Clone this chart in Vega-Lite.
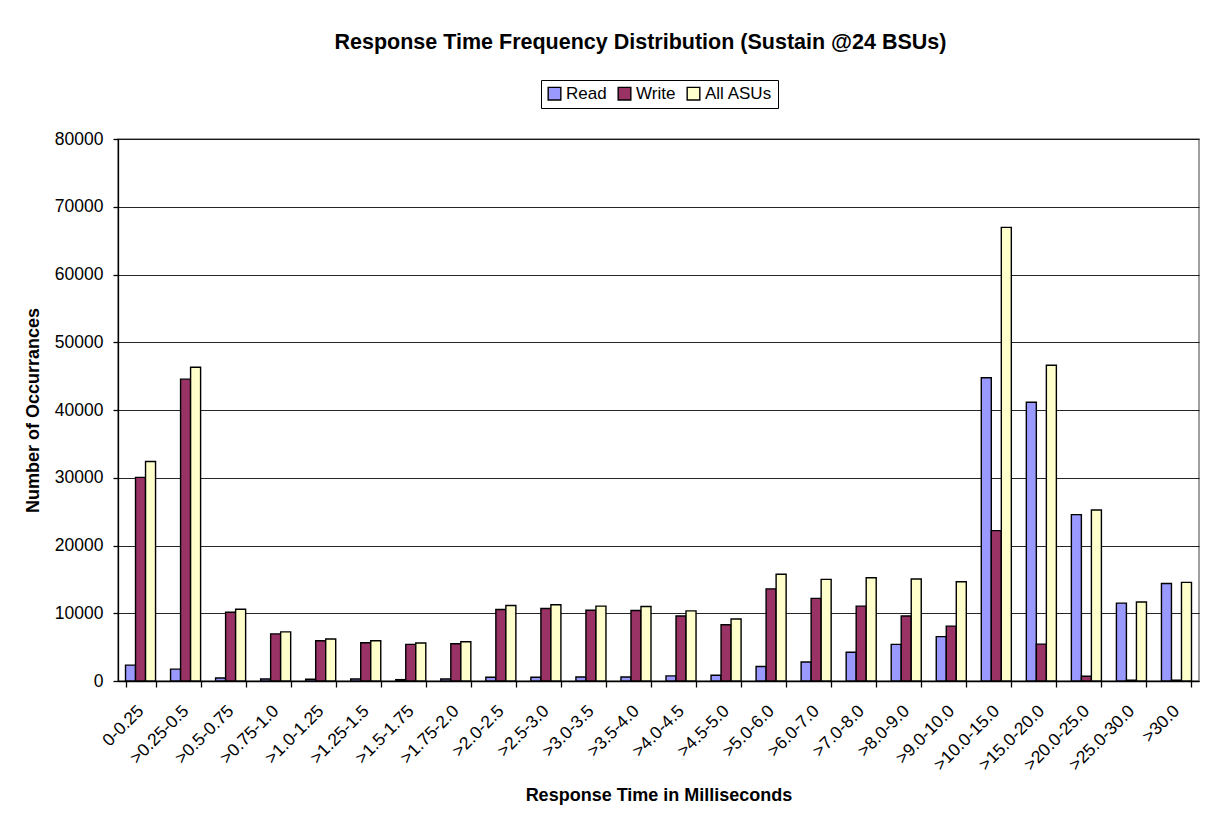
{
  "$schema": "https://vega.github.io/schema/vega-lite/v6.json",
  "autosize": {"type": "none"},
  "padding": {"left": 118, "top": 139, "right": 8, "bottom": 140},
  "width": 1081,
  "height": 542,
  "background": "white",
  "title": {
    "text": "Response Time Frequency Distribution (Sustain @24 BSUs)",
    "font": "Liberation Sans",
    "fontSize": 21.5,
    "fontWeight": "bold",
    "color": "black",
    "anchor": "middle",
    "offset": 26,
    "dx": -18
  },
  "data": {
    "values": [
      {"range": "0-0.25", "series": "Read", "count": 2350},
      {"range": "0-0.25", "series": "Write", "count": 30050},
      {"range": "0-0.25", "series": "All ASUs", "count": 32400},
      {"range": ">0.25-0.5", "series": "Read", "count": 1750},
      {"range": ">0.25-0.5", "series": "Write", "count": 44550},
      {"range": ">0.25-0.5", "series": "All ASUs", "count": 46300},
      {"range": ">0.5-0.75", "series": "Read", "count": 450},
      {"range": ">0.5-0.75", "series": "Write", "count": 10150},
      {"range": ">0.5-0.75", "series": "All ASUs", "count": 10600},
      {"range": ">0.75-1.0", "series": "Read", "count": 300},
      {"range": ">0.75-1.0", "series": "Write", "count": 6950},
      {"range": ">0.75-1.0", "series": "All ASUs", "count": 7250},
      {"range": ">1.0-1.25", "series": "Read", "count": 250},
      {"range": ">1.0-1.25", "series": "Write", "count": 5950},
      {"range": ">1.0-1.25", "series": "All ASUs", "count": 6200},
      {"range": ">1.25-1.5", "series": "Read", "count": 300},
      {"range": ">1.25-1.5", "series": "Write", "count": 5650},
      {"range": ">1.25-1.5", "series": "All ASUs", "count": 5950},
      {"range": ">1.5-1.75", "series": "Read", "count": 200},
      {"range": ">1.5-1.75", "series": "Write", "count": 5400},
      {"range": ">1.5-1.75", "series": "All ASUs", "count": 5600},
      {"range": ">1.75-2.0", "series": "Read", "count": 300},
      {"range": ">1.75-2.0", "series": "Write", "count": 5500},
      {"range": ">1.75-2.0", "series": "All ASUs", "count": 5800},
      {"range": ">2.0-2.5", "series": "Read", "count": 550},
      {"range": ">2.0-2.5", "series": "Write", "count": 10550},
      {"range": ">2.0-2.5", "series": "All ASUs", "count": 11150},
      {"range": ">2.5-3.0", "series": "Read", "count": 550},
      {"range": ">2.5-3.0", "series": "Write", "count": 10700},
      {"range": ">2.5-3.0", "series": "All ASUs", "count": 11250},
      {"range": ">3.0-3.5", "series": "Read", "count": 600},
      {"range": ">3.0-3.5", "series": "Write", "count": 10450},
      {"range": ">3.0-3.5", "series": "All ASUs", "count": 11050},
      {"range": ">3.5-4.0", "series": "Read", "count": 600},
      {"range": ">3.5-4.0", "series": "Write", "count": 10400},
      {"range": ">3.5-4.0", "series": "All ASUs", "count": 11000},
      {"range": ">4.0-4.5", "series": "Read", "count": 750},
      {"range": ">4.0-4.5", "series": "Write", "count": 9600},
      {"range": ">4.0-4.5", "series": "All ASUs", "count": 10350},
      {"range": ">4.5-5.0", "series": "Read", "count": 850},
      {"range": ">4.5-5.0", "series": "Write", "count": 8300},
      {"range": ">4.5-5.0", "series": "All ASUs", "count": 9150},
      {"range": ">5.0-6.0", "series": "Read", "count": 2150},
      {"range": ">5.0-6.0", "series": "Write", "count": 13600},
      {"range": ">5.0-6.0", "series": "All ASUs", "count": 15750},
      {"range": ">6.0-7.0", "series": "Read", "count": 2800},
      {"range": ">6.0-7.0", "series": "Write", "count": 12200},
      {"range": ">6.0-7.0", "series": "All ASUs", "count": 15000},
      {"range": ">7.0-8.0", "series": "Read", "count": 4250},
      {"range": ">7.0-8.0", "series": "Write", "count": 11050},
      {"range": ">7.0-8.0", "series": "All ASUs", "count": 15250},
      {"range": ">8.0-9.0", "series": "Read", "count": 5400},
      {"range": ">8.0-9.0", "series": "Write", "count": 9600},
      {"range": ">8.0-9.0", "series": "All ASUs", "count": 15050},
      {"range": ">9.0-10.0", "series": "Read", "count": 6550},
      {"range": ">9.0-10.0", "series": "Write", "count": 8100},
      {"range": ">9.0-10.0", "series": "All ASUs", "count": 14650},
      {"range": ">10.0-15.0", "series": "Read", "count": 44750},
      {"range": ">10.0-15.0", "series": "Write", "count": 22200},
      {"range": ">10.0-15.0", "series": "All ASUs", "count": 66950},
      {"range": ">15.0-20.0", "series": "Read", "count": 41150},
      {"range": ">15.0-20.0", "series": "Write", "count": 5450},
      {"range": ">15.0-20.0", "series": "All ASUs", "count": 46600},
      {"range": ">20.0-25.0", "series": "Read", "count": 24550},
      {"range": ">20.0-25.0", "series": "Write", "count": 700},
      {"range": ">20.0-25.0", "series": "All ASUs", "count": 25250},
      {"range": ">25.0-30.0", "series": "Read", "count": 11500},
      {"range": ">25.0-30.0", "series": "Write", "count": 120},
      {"range": ">25.0-30.0", "series": "All ASUs", "count": 11650},
      {"range": ">30.0", "series": "Read", "count": 14400},
      {"range": ">30.0", "series": "Write", "count": 120},
      {"range": ">30.0", "series": "All ASUs", "count": 14550}
    ]
  },
  "mark": {"type": "bar", "stroke": "black", "strokeWidth": 1.4},
  "encoding": {
    "x": {
      "field": "range",
      "type": "nominal",
      "sort": null,
      "scale": {"paddingInner": 0.333, "paddingOuter": 0.1667},
      "axis": {
        "title": "Response Time in Milliseconds",
        "labelAngle": -45,
        "labelAlign": "right",
        "labelBaseline": "middle",
        "labelPadding": 21,
        "labelFontSize": 17.5,
        "tickBand": "extent",
        "tickSize": 6,
        "titlePadding": 13
      }
    },
    "xOffset": {
      "field": "series",
      "type": "nominal",
      "sort": ["Read", "Write", "All ASUs"],
      "scale": {"paddingInner": 0, "paddingOuter": 0}
    },
    "y": {
      "field": "count",
      "type": "quantitative",
      "scale": {"domain": [0, 80000], "nice": false},
      "axis": {
        "title": "Number of Occurrances",
        "values": [0, 10000, 20000, 30000, 40000, 50000, 60000, 70000, 80000],
        "format": "d",
        "tickSize": 5,
        "labelPadding": 10,
        "labelFontSize": 17.5,
        "titlePadding": 12
      }
    },
    "color": {
      "field": "series",
      "type": "nominal",
      "sort": ["Read", "Write", "All ASUs"],
      "scale": {"domain": ["Read", "Write", "All ASUs"], "range": ["#9999FF", "#993366", "#FFFFCC"]},
      "legend": {
        "title": null,
        "orient": "none",
        "direction": "horizontal",
        "legendX": 423,
        "legendY": -59,
        "strokeColor": "black",
        "fillColor": "white",
        "padding": 5,
        "symbolType": "square",
        "symbolSize": 160,
        "symbolStrokeColor": "black",
        "symbolStrokeWidth": 1.4,
        "symbolOpacity": 1,
        "labelFont": "Liberation Sans",
        "labelFontSize": 17,
        "labelColor": "black",
        "labelOffset": 3,
        "columnPadding": 8
      }
    }
  },
  "config": {
    "view": {"stroke": "#808080", "strokeWidth": 1.5},
    "axis": {
      "labelFont": "Liberation Sans",
      "labelFontSize": 17,
      "labelColor": "black",
      "titleFont": "Liberation Sans",
      "titleFontSize": 18,
      "titleFontWeight": "bold",
      "titleColor": "black",
      "domainColor": "black",
      "domainWidth": 1.3,
      "tickColor": "black",
      "tickWidth": 1.3,
      "gridColor": "black",
      "gridWidth": 1,
      "gridOpacity": 0.85
    },
    "axisX": {"grid": false},
    "axisY": {"grid": true}
  }
}
